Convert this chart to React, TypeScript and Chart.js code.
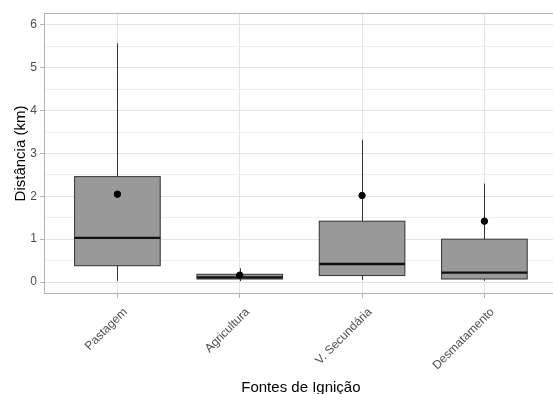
import React, { useEffect, useRef } from "react";
import { Chart, registerables } from "chart.js";

Chart.register(...registerables);

const categories = ["Pastagem", "Agricultura", "V. Secundária", "Desmatamento"];
const whiskerLow = [0.03, 0.02, 0.05, 0.03];
const q1 = [0.38, 0.07, 0.15, 0.07];
const median = [1.03, 0.11, 0.42, 0.22];
const q3 = [2.46, 0.18, 1.42, 1.0];
const whiskerHigh = [5.57, 0.32, 3.32, 2.3];
const means = [2.05, 0.16, 2.02, 1.42];
const yTicks = [0, 0.5, 1, 1.5, 2, 2.5, 3, 3.5, 4, 4.5, 5, 5.5, 6];

const FONT = "'Liberation Sans', Arial, sans-serif";

const boxPlugin = {
  id: "boxes",
  beforeDatasetsDraw(chart: any) {
    const { ctx, chartArea, scales } = chart;
    const xs = scales.x;
    const ys = scales.y;
    ctx.save();
    ctx.beginPath();
    ctx.rect(chartArea.left, chartArea.top, chartArea.right - chartArea.left, chartArea.bottom - chartArea.top);
    ctx.clip();
    categories.forEach((_, i) => {
      const cx = Math.round(xs.getPixelForValue(i)) + 0.5;
      const l = xs.getPixelForValue(i - 0.35);
      const r = xs.getPixelForValue(i + 0.35);
      const yLo = ys.getPixelForValue(whiskerLow[i]);
      const yQ1 = ys.getPixelForValue(q1[i]);
      const yMed = ys.getPixelForValue(median[i]);
      const yQ3 = ys.getPixelForValue(q3[i]);
      const yHi = ys.getPixelForValue(whiskerHigh[i]);
      ctx.strokeStyle = "#333333";
      ctx.lineWidth = 1;
      ctx.beginPath();
      ctx.moveTo(cx, yHi);
      ctx.lineTo(cx, yQ3);
      ctx.moveTo(cx, yQ1);
      ctx.lineTo(cx, yLo);
      ctx.stroke();
      ctx.fillStyle = "#999999";
      ctx.fillRect(l, yQ3, r - l, yQ1 - yQ3);
      ctx.strokeRect(l, yQ3, r - l, yQ1 - yQ3);
      ctx.strokeStyle = "#111111";
      ctx.lineWidth = 2.3;
      ctx.beginPath();
      ctx.moveTo(l, yMed);
      ctx.lineTo(r, yMed);
      ctx.stroke();
    });
    ctx.restore();
  },
  afterDraw(chart: any) {
    const { ctx, chartArea } = chart;
    ctx.save();
    ctx.strokeStyle = "#B3B3B3";
    ctx.lineWidth = 1;
    ctx.strokeRect(chartArea.left + 0.5, chartArea.top + 0.5, chartArea.right - chartArea.left - 1, chartArea.bottom - chartArea.top - 1);
    ctx.restore();
  },
};

export default function App() {
  const ref = useRef<HTMLCanvasElement | null>(null);
  useEffect(() => {
    if (!ref.current) return;
    const chart = new Chart(ref.current, {
      type: "scatter",
      data: {
        datasets: [
          {
            data: means.map((m, i) => ({ x: i, y: m })),
            backgroundColor: "#000000",
            borderColor: "#000000",
            pointRadius: 3.2,
            pointHoverRadius: 3.2,
          },
        ],
      },
      options: {
        responsive: false,
        animation: false,
        devicePixelRatio: 1,
        layout: { padding: { top: 13, left: 0, right: 0, bottom: 0 } },
        plugins: { legend: { display: false }, tooltip: { enabled: false } },
        scales: {
          x: {
            type: "linear",
            min: -0.6,
            max: 3.6,
            afterBuildTicks: (s: any) => {
              s.ticks = categories.map((_, i) => ({ value: i }));
            },
            afterFit: (s: any) => {
              s.height = 100;
            },
            border: { display: false },
            grid: {
              color: "#E3E3E3",
              lineWidth: 1,
              drawTicks: true,
              tickLength: 4,
              tickColor: "#B3B3B3",
            },
            ticks: {
              autoSkip: false,
              minRotation: 45,
              maxRotation: 45,
              padding: 7,
              labelOffset: 8,
              color: "#4D4D4D",
              font: { family: FONT, size: 12 },
              callback: (v: any) => categories[Math.round(Number(v))] ?? "",
            },
            title: {
              display: true,
              text: "Fontes de Ignição",
              color: "#000000",
              font: { family: FONT, size: 15, lineHeight: 0.8 },
              padding: { top: 0, bottom: 0 },
            },
          },
          y: {
            type: "linear",
            min: -0.28,
            max: 6.28,
            afterBuildTicks: (s: any) => {
              s.ticks = yTicks.map((v) => ({ value: v }));
            },
            afterFit: (s: any) => {
              s.width = 44;
            },
            border: { display: false },
            grid: {
              color: (c: any) => (c.tick && Number.isInteger(c.tick.value) ? "#E3E3E3" : "#EFEFEF"),
              lineWidth: 1,
              drawTicks: true,
              tickLength: 4,
              tickColor: (c: any) => (c.tick && Number.isInteger(c.tick.value) ? "#B3B3B3" : "rgba(0,0,0,0)"),
            },
            ticks: {
              autoSkip: false,
              padding: 3,
              color: "#4D4D4D",
              font: { family: FONT, size: 12 },
              callback: (v: any) => (Number.isInteger(Number(v)) ? String(v) : ""),
            },
            title: {
              display: true,
              text: "Distância (km)",
              color: "#000000",
              font: { family: FONT, size: 15, lineHeight: 1.2 },
              padding: { top: 12, bottom: 0 },
            },
          },
        },
      },
      plugins: [boxPlugin],
    });
    return () => chart.destroy();
  }, []);
  return (
    <div style={{ position: "fixed", left: 0, top: 0, width: 553, height: 394, overflow: "hidden", background: "#ffffff" }}>
      <canvas ref={ref} width={562} height={394} style={{ width: 562, height: 394, display: "block" }} />
    </div>
  );
}
